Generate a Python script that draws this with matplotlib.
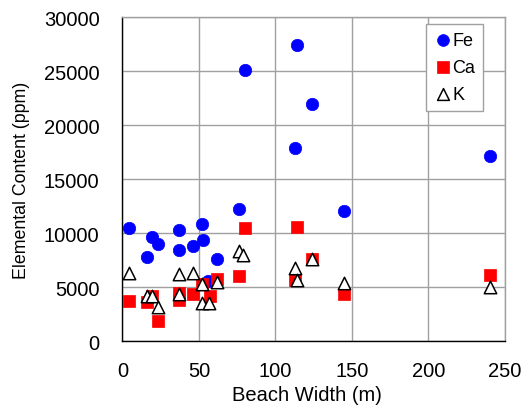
import matplotlib
matplotlib.use("Agg")
import matplotlib.pyplot as plt

fe_x = [4, 16, 19.5, 23, 37, 37, 46, 52, 52.6, 56, 62, 76, 80, 113, 114, 124, 145, 240]
fe_y = [10460, 7830, 9690, 8980, 10330, 8480, 8850, 10860, 9410, 5600, 7620, 12250, 25100, 17870, 27400, 21970, 12060, 17130]

ca_x = [4, 16, 19.5, 23, 37, 37, 46, 52, 57, 62, 76, 80, 113, 114, 124, 145, 240]
ca_y = [3730, 3670, 4220, 1910, 4440, 3850, 4380, 5300, 4170, 5770, 6080, 10490, 5680, 10610, 7620, 4410, 6140]

k_x = [4, 16, 19.5, 23, 37, 37, 46, 52, 52, 56.5, 62, 76, 79, 113, 114, 124, 145, 240]
k_y = [6320, 4220, 4170, 3150, 6230, 4380, 6300, 5300, 3550, 3550, 5460, 8390, 7990, 6760, 5700, 7620, 5400, 5060]

x_ticks = [0, 50, 100, 150, 200, 250]
y_ticks = [0, 5000, 10000, 15000, 20000, 25000, 30000]

plt.rcParams['font.family'] = ['Liberation Sans', 'DejaVu Sans']
fig = plt.figure(figsize=(5.23, 4.06), dpi=100)
ax = fig.add_axes([0.234, 0.157, 0.7316, 0.7986])

ax.scatter(fe_x, fe_y, s=80, marker='o', color='#0000ff', edgecolors='#0000ff', linewidths=0.5, zorder=3, label='Fe')
ax.scatter(ca_x, ca_y, s=80, marker='s', color='#ff0000', edgecolors='#ff0000', linewidths=0.5, zorder=4, label='Ca')
ax.scatter(k_x, k_y, s=80, marker='^', facecolors='white', edgecolors='black', linewidths=1.1, zorder=5, label='K')

ax.set_xlim(0, 250)
ax.set_ylim(0, 30000)
ax.set_xticks(x_ticks)
ax.set_yticks(y_ticks)
ax.tick_params(axis='x', length=0, labelsize=14.5, pad=14.5)
ax.tick_params(axis='y', length=0, labelsize=14.5, pad=16.5)
ax.grid(True, color='#a0a0a0', linewidth=1.0, zorder=0)
ax.set_axisbelow(True)
for s in ['top', 'right']:
    ax.spines[s].set_color('#a0a0a0')
    ax.spines[s].set_linewidth(1.0)
for s in ['left', 'bottom']:
    ax.spines[s].set_color('black')
    ax.spines[s].set_linewidth(1.0)

ax.set_xlabel('Beach Width (m)', fontsize=14.5, labelpad=3)
ax.xaxis.label.set_x(0.483)
ax.set_ylabel('Elemental Content (ppm)', fontsize=12.8, labelpad=10)

leg = ax.legend(loc='upper right', bbox_to_anchor=(0.9425, 0.9784), borderaxespad=0,
                fontsize=13, frameon=True, fancybox=False, edgecolor='#a0a0a0', framealpha=1,
                handletextpad=0.0, labelspacing=0.55, borderpad=0.45, handlelength=1.0,
                markerscale=0.95)
leg.get_frame().set_linewidth(1.0)

fig.savefig('out.png', dpi=100)
